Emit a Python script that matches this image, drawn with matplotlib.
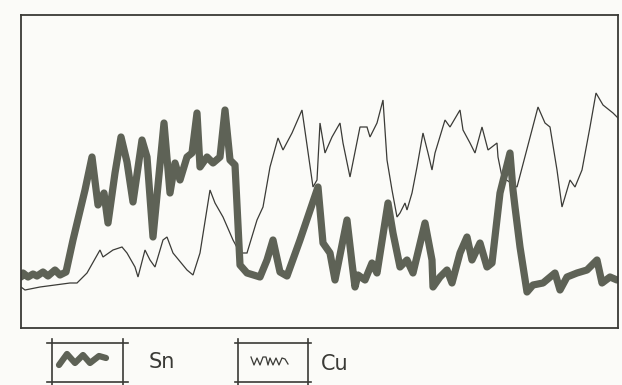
import matplotlib
matplotlib.use("Agg")
import matplotlib.pyplot as plt
from matplotlib.lines import Line2D

# Line-scan profile: position along the scan vs. signal intensity
sn_pos = [0, 2, 7, 12, 16, 22, 27, 34, 39, 45, 52, 64, 71, 77, 83, 87, 94, 100,
          106, 112, 121, 126, 132, 143, 149, 154, 159, 166, 171, 176, 179, 186,
          192, 199, 204, 209, 214, 219, 226, 239, 246, 252, 259, 266, 279, 297,
          302, 309, 314, 326, 331, 334, 337, 344, 351, 356, 367, 372, 379, 386,
          392, 404, 411, 412, 419, 426, 431, 439, 446, 451, 459, 466, 471, 479,
          489, 492, 494, 499, 506, 512, 522, 534, 539, 546, 556, 566, 576, 581,
          589, 596]
sn_int = [51, 55, 51, 54, 52, 56, 52, 58, 53, 56, 88, 138, 171, 123, 135, 105,
          155, 191, 166, 126, 188, 171, 91, 205, 135, 165, 148, 171, 175, 215,
          161, 171, 165, 171, 218, 168, 163, 63, 55, 51, 68, 88, 56, 52, 88,
          141, 85, 75, 48, 108, 65, 41, 53, 48, 65, 55, 125, 95, 61, 68, 55,
          105, 68, 41, 51, 58, 45, 75, 91, 68, 85, 61, 65, 135, 175, 138, 121,
          81, 36, 43, 45, 55, 38, 51, 55, 58, 68, 45, 51, 48]

cu_pos = [0, 4, 19, 34, 49, 56, 66, 79, 82, 92, 101, 106, 114, 117, 124, 129,
          134, 142, 146, 152, 166, 172, 179, 189, 194, 202, 212, 219, 226, 236,
          242, 249, 257, 262, 271, 281, 292, 296, 299, 304, 311, 319, 322, 329,
          339, 346, 349, 356, 362, 366, 371, 376, 379, 384, 386, 391, 396, 402,
          407, 411, 414, 424, 429, 439, 442, 449, 454, 461, 467, 476, 477, 481,
          496, 517, 524, 529, 536, 541, 544, 549, 554, 561, 569, 575, 582, 592,
          599]
cu_int = [41, 38, 41, 43, 45, 45, 55, 78, 71, 78, 81, 75, 61, 51, 78, 68, 61,
          88, 91, 75, 58, 53, 75, 138, 125, 111, 88, 75, 75, 108, 121, 161, 190,
          178, 195, 218, 141, 148, 205, 175, 191, 205, 185, 151, 201, 201, 191,
          205, 228, 168, 138, 111, 115, 125, 118, 135, 161, 195, 175, 158, 175,
          208, 201, 218, 198, 185, 175, 201, 178, 185, 171, 151, 141, 221, 205,
          201, 158, 121, 131, 148, 141, 158, 201, 235, 223, 215, 208]

labels = ["Sn", "Cu"]

W, H = 622, 385
paper = "#fbfbf8"
ink = "#3a3a36"
sn_color = "#5e6256"
cu_color = "#3b3b37"

fig = plt.figure(figsize=(W / 100, H / 100), dpi=100, facecolor=paper)


def fx(px):
    return px / W


def fy(py):
    return (H - py) / H


ax = fig.add_axes([fx(21), fy(328), fx(618) - fx(21), fy(15) - fy(328)],
                  facecolor=paper)
ax.plot(cu_pos, cu_int, color=cu_color, lw=0.9, solid_joinstyle="miter")
ax.plot(sn_pos, sn_int, color=sn_color, lw=5.2, solid_joinstyle="round",
        solid_capstyle="round")
ax.set_xlim(0, 597)
ax.set_ylim(0, 313)
ax.set_xticks([])
ax.set_yticks([])
for s in ax.spines.values():
    s.set_color(ink)
    s.set_linewidth(1.3)


def legend_box(x0, x1, y0, y1, ext):
    kw = dict(transform=fig.transFigure, color=ink, lw=1.2)
    fig.add_artist(Line2D([fx(x0 - ext), fx(x1 + ext)], [fy(y0), fy(y0)], **kw))
    fig.add_artist(Line2D([fx(x0 - ext), fx(x1 + ext)], [fy(y1), fy(y1)], **kw))
    fig.add_artist(Line2D([fx(x0), fx(x0)], [fy(y0 - 4), fy(y1 + 3)], **kw))
    fig.add_artist(Line2D([fx(x1), fx(x1)], [fy(y0 - 4), fy(y1 + 3)], **kw))


# Sn key: box with a thick squiggle
legend_box(52, 123, 343, 382, 5)
sn_glyph_x = [59, 67, 75, 83, 90, 99, 106]
sn_glyph_y = [365, 354, 363, 355, 363, 356, 358]
fig.add_artist(Line2D([fx(v) for v in sn_glyph_x], [fy(v) for v in sn_glyph_y],
                      transform=fig.transFigure, color=sn_color, lw=4.5,
                      solid_capstyle="round", solid_joinstyle="round"))
fig.text(fx(149), fy(362), labels[0], fontsize=15, color=ink,
         va="center", ha="left")

# Cu key: box with a thin squiggle
legend_box(238, 308, 343, 382, 3)
cu_glyph_x = [251, 254, 257, 260, 263, 266, 268, 270, 273, 276, 279, 282, 285, 288]
cu_glyph_y = [357, 365, 358, 365, 357, 357, 365, 358, 365, 358, 365, 358, 359, 364]
fig.add_artist(Line2D([fx(v) for v in cu_glyph_x], [fy(v) for v in cu_glyph_y],
                      transform=fig.transFigure, color=cu_color, lw=0.9))
fig.text(fx(321), fy(364), labels[1], fontsize=15, color=ink,
         va="center", ha="left")

fig.savefig("out.png", dpi=100, facecolor=paper)
